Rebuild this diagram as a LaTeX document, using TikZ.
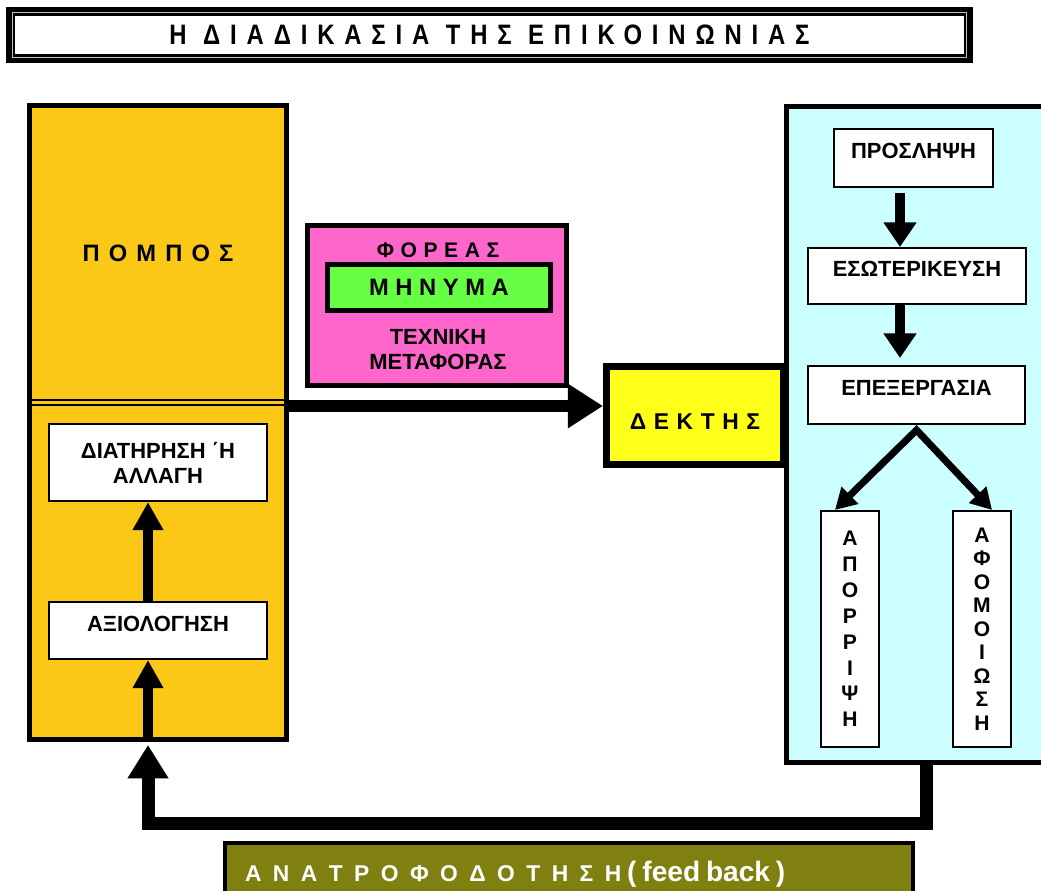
\documentclass[tikz,border=0pt]{standalone}
\usepackage{fontspec}
\setmainfont{Liberation Sans}
\newfontfamily\titlefont[FakeStretch=0.85,LetterSpace=35]{Liberation Sans}
\usetikzlibrary{arrows.meta, positioning}

\newcommand\boxfont{\bfseries\fontsize{12.5}{14.2}\selectfont}

\tikzset{
  thickbox/.style={draw=black, line width=2.8pt, inner sep=0pt},
  whitebox/.style={draw=black, fill=white, line width=0.9pt, inner sep=0pt, font=\boxfont},
  oneline/.style={whitebox, text height=9pt, text depth=8pt},
  spaced/.style 2 args={font={\bfseries\fontsize{#1}{14}\selectfont\spaceskip=#2\fontdimen2\font\relax}},
  flow/.style={line width=6.2pt, -{Triangle[width=18pt,length=14pt]}},
  uparrow/.style={line width=5.7pt, -{Triangle[width=16.5pt,length=16pt]}},
  branch/.style={line width=4pt, line join=miter, {Triangle[width=13pt,length=12pt]}-{Triangle[width=13pt,length=12pt]}},
  mainarrow/.style={line width=7pt, -{Triangle[width=24pt,length=20pt]}},
  feedarrow/.style={line width=7.4pt, -{Triangle[width=22pt,length=19pt]}},
}

\begin{document}
\begin{tikzpicture}[x=0.02cm, y=-0.02cm]
  \definecolor{pomposfill}{RGB}{252,200,24}
  \definecolor{foreasfill}{RGB}{255,102,204}
  \definecolor{minimafill}{RGB}{102,255,68}
  \definecolor{dektisfill}{RGB}{255,255,26}
  \definecolor{receiverfill}{RGB}{204,255,255}
  \definecolor{feedfill}{RGB}{128,128,16}
  \useasboundingbox (0,0) rectangle (1041,890);
  \fill[white] (0,0) rectangle (1041,890);

  % title
  \node[draw=black, fill=white, line width=5pt, inner sep=0pt, minimum width=19.15cm, minimum height=0.95cm,
        font={\titlefont\bfseries\fontsize{16}{18}\selectfont}] (title) at (489.5,35) {Η ΔΙΑΔΙΚΑΣΙΑ ΤΗΣ ΕΠΙΚΟΙΝΩΝΙΑΣ};
  \draw[gray!50, line width=0.6pt] ([shift={(6,6)}]title.north west) rectangle ([shift={(-6,-6)}]title.south east);

  % sender
  \node[thickbox, fill=pomposfill, minimum width=5.14cm, minimum height=12.68cm] (pompos) at (158,422.5) {};
  \node[spaced={13.5}{1.39}] (pomposlbl) at (158,253) {Π Ο Μ Π Ο Σ};
  \draw[line width=0.8pt] (pompos.west |- 0,400) -- (pompos.east |- 0,400);
  \draw[line width=0.8pt] (pompos.west |- 0,405) -- (pompos.east |- 0,405);
  \node[whitebox, minimum width=4.37cm, minimum height=1.55cm, align=center] (diatirisi) at (158,462.5) {ΔΙΑΤΗΡΗΣΗ ΄Η\\ΑΛΛΑΓΗ};
  \node[oneline, minimum width=4.37cm, minimum height=1.15cm] (axiologisi) at (158,630.5) {ΑΞΙΟΛΟΓΗΣΗ};
  \draw[uparrow] ([xshift=-0.2cm]axiologisi.north) -- ([xshift=-0.2cm]diatirisi.south);
  \draw[uparrow] ([xshift=-0.2cm]pompos.south) -- ([xshift=-0.2cm]axiologisi.south);

  % carrier
  \node[thickbox, fill=foreasfill, minimum width=5.18cm, minimum height=3.2cm] (foreas) at (437,305.5) {};
  \node[spaced={12}{1.12}] (foreaslbl) at (438,250) {Φ Ο Ρ Ε Α Σ};
  \node[thickbox, fill=minimafill, minimum width=4.46cm, minimum height=0.92cm, spaced={13.5}{1}] (minima) at (439,287.5) {Μ Η Ν Υ Μ Α};
  \node[font=\boxfont, align=center] (techniki) at (438,349.5) {ΤΕΧΝΙΚΗ\\ΜΕΤΑΦΟΡΑΣ};

  % receiver
  \node[thickbox, fill=receiverfill, minimum width=5.14cm, minimum height=13.12cm] (receiver) at (915,434.5) {};
  \node[oneline, minimum width=3.19cm, minimum height=1.17cm] (proslipsi) at (913.5,158) {ΠΡΟΣΛΗΨΗ};
  \node[oneline, minimum width=4.37cm, minimum height=1.13cm] (esoterikeysi) at (917,276) {ΕΣΩΤΕΡΙΚΕΥΣΗ};
  \node[oneline, minimum width=4.35cm, minimum height=1.17cm] (epexergasia) at (916.5,395) {ΕΠΕΞΕΡΓΑΣΙΑ};
  \node[whitebox, minimum width=1.17cm, minimum height=4.73cm, align=center,
        font={\bfseries\fontsize{12}{14.7}\selectfont}] (aporripsi) at (850,629) {Α\\Π\\Ο\\Ρ\\Ρ\\Ι\\Ψ\\Η};
  \node[whitebox, minimum width=1.17cm, minimum height=4.73cm, align=center,
        font={\bfseries\fontsize{12}{13.4}\selectfont}] (afomoiosi) at (982,629) {Α\\Φ\\Ο\\Μ\\Ο\\Ι\\Ω\\Σ\\Η};
  \coordinate (flowx) at (900,0);
  \draw[flow, shorten <=0.1cm] (flowx |- proslipsi.south) -- (flowx |- esoterikeysi.north);
  \draw[flow, shorten >=0.14cm] (flowx |- esoterikeysi.south) -- (flowx |- epexergasia.north);
  \draw[branch] ([xshift=0.3cm]aporripsi.north west) -- ([yshift=-0.1cm]epexergasia.south) -- ([xshift=-0.4cm]afomoiosi.north east);

  \node[thickbox, line width=4pt, fill=dektisfill, minimum width=3.54cm, minimum height=1.96cm,
        spaced={13}{1.19}, text height=16pt, text depth=0pt] (dektis) at (695,415.5) {Δ Ε Κ Τ Η Σ};
  \draw[mainarrow] (pompos.east |- 0,406) -- (dektis.west |- 0,406);

  % feedback
  \draw[feedarrow] ([xshift=0.23cm]receiver.south) -- ++(0,59) -| ([xshift=-0.2cm,yshift=-0.06cm]pompos.south);
  \node[draw=black, line width=2.3pt, fill=feedfill, text=white, font=\bfseries, inner xsep=0.4cm, text width=12.96cm,
        minimum height=1.24cm, align=left] (feedback) at (569,874)
        {{\fontsize{13}{14}\selectfont\spaceskip=1.8\fontdimen2\font\relax Α Ν Α Τ Ρ Ο Φ Ο Δ Ο Τ Η Σ Η} {\fontsize{16}{18}\selectfont( feed back )}};
\end{tikzpicture}
\end{document}
